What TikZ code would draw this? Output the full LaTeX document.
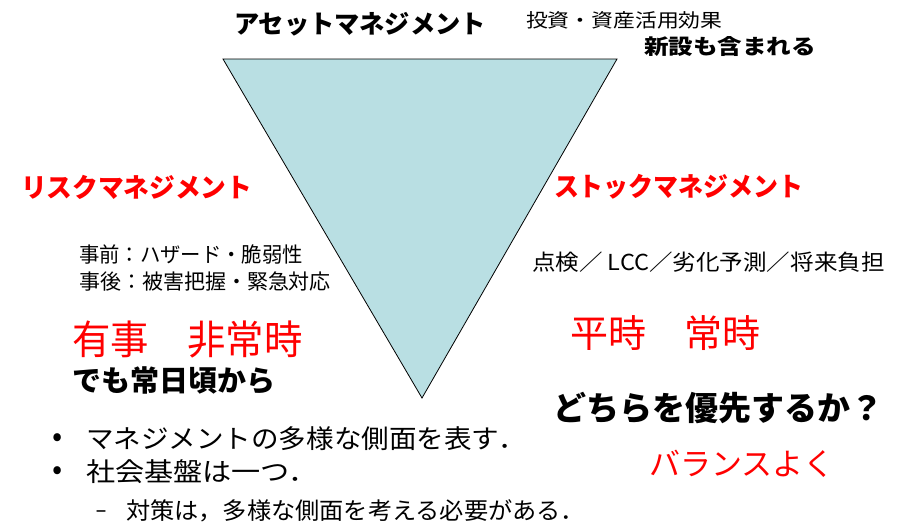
\documentclass[tikz,border=0pt]{standalone}
\usepackage{fontspec}
\setmainfont{Noto Sans CJK JP}
\newfontfamily\dvfont{DejaVu Sans}
\definecolor{tri}{RGB}{185,223,227}
\definecolor{rd}{RGB}{255,0,0}
\newcommand{\fsz}[1]{\fontsize{#1}{#1}\selectfont}
\newcommand{\hs}[2]{\scalebox{#1}[1]{#2}}
\tikzset{
  lbl/.style={anchor=west, inner sep=0pt, outer sep=0pt, text=black},
  redlbl/.style={lbl, text=rd},
  bullet/.style={anchor=center, inner sep=0pt, outer sep=0pt, font=\fsz{30}},
}
\begin{document}
\begin{tikzpicture}[x=1pt, y=-1pt]
\useasboundingbox (0,0) rectangle (908,528);
\draw[fill=tri, line width=0.8pt] (223,59) -- (617,59) -- (422,398) -- cycle;

\node[lbl, font=\fsz{25.5}\bfseries] (asset) at (234,24) {\hs{0.99}{アセットマネジメント}};
\node[lbl, font=\fsz{19}] (invest) at (526,20) {\hs{1.15}{投資・資産活用効果}};
\node[lbl, font=\fsz{21}\bfseries] (newc) at (644,47) {\hs{1.17}{新設も含まれる}};

\node[redlbl, font=\fsz{26.5}\bfseries] (risk) at (21,187) {\hs{0.97}{リスクマネジメント}};
\node[redlbl, font=\fsz{26.5}\bfseries] (stock) at (554,187) {\hs{0.94}{ストックマネジメント}};

\node[lbl, font=\fsz{21}] (pre) at (79,254) {\hs{0.97}{事前：ハザード・脆弱性}};
\node[lbl, font=\fsz{21}] (post) at (79,282) {事後：被害把握・緊急対応};

\node[redlbl, font=\fsz{40}] (yuji) at (72,339) {\hs{0.96}{有事　非常時}};
\node[lbl, font=\fsz{29}\bfseries] (demo) at (72,381) {でも常日頃から};

\node[lbl, font=\fsz{22}] (check) at (532,262) {\hs{1.07}{点検／ LCC／劣化予測／将来負担}};
\node[redlbl, font=\fsz{38}] (heiji) at (570,333) {平時　常時};

\node[lbl, font=\fsz{33}\bfseries] (which) at (553,408) {どちらを優先するか？};
\node[redlbl, font=\fsz{31}] (balance) at (649,464) {バランスよく};

\node[bullet] (dot1) at (58,440) {•};
\node[lbl, font=\fsz{26}] (b1) at (86,439) {\hs{1.06}{マネジメントの多様な側面を表す．}};
\node[bullet] (dot2) at (58,473) {•};
\node[lbl, font=\fsz{26}] (b2) at (86,472) {\hs{1.12}{社会基盤は一つ．}};
\node[anchor=base, inner sep=0pt, font=\dvfont\fsz{22}] (dash) at (101,517.5) {–};
\node[lbl, font=\fsz{23.5}] (sub) at (126,511) {\hs{1.03}{対策は，多様な側面を考える必要がある．}};
\end{tikzpicture}
\end{document}
